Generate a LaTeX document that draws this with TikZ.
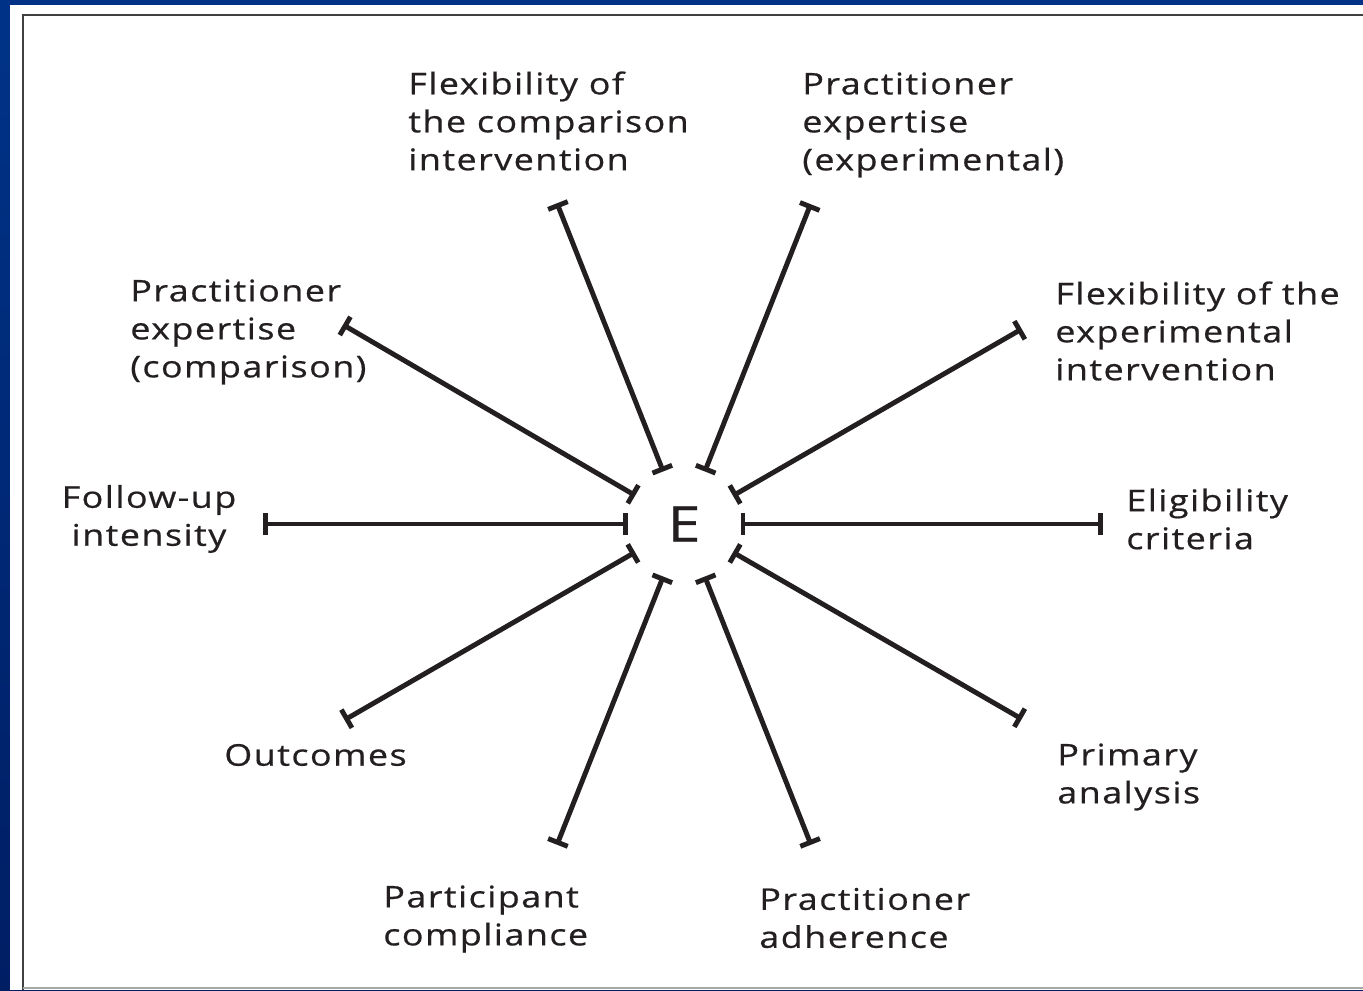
\documentclass[tikz,border=0pt]{standalone}
\usepackage{fontspec}
\setmainfont{Open Sans}
\newfontfamily\labelfont{Open Sans}[FakeStretch = 1.2, LetterSpace = 5, FakeBold = 0.6]
\usepackage{tikz}
\usetikzlibrary{arrows.meta, calc}
\definecolor{slideblue}{RGB}{0,51,136}
\definecolor{slidedark}{RGB}{0,30,100}
\definecolor{inkgray}{RGB}{35,31,32}

\begin{document}
\begin{tikzpicture}[spoke/.style = {line width = 2.8pt, color = inkgray, {Bar[width = 12pt]}-{Bar[width = 12pt]}}, lbl/.style = {anchor = west, inner sep = 0pt, align = left, text = inkgray, font = \labelfont\fontsize{17}{21.6}\selectfont}]
            \useasboundingbox (0,0) rectangle (27.26,19.8);
            \shade[top color = slideblue, bottom color = slidedark] (0,0) rectangle (27.26,19.8);
            \fill[white] (0.2,0) rectangle (27.26,19.7);
            \draw[line width = 1.6pt, color = black!75] (0.46,0) -- (0.46,19.5) -- (27.3,19.5);
            \draw[line width = 1pt, color = black!35] (0.46,0.04) -- (27.3,0.04);
            \node[inner sep = 0pt, text = inkgray, font = \labelfont\fontsize{28}{32}\selectfont] (E) at (13.68,9.32) {E};
            \foreach \ang/\len [count = \i] in {0/8.38, 30/7.8, 68.4/6.88, 111.6/6.9, 149.7/7.9, 180/8.42, 210/7.84, 248.4/6.9, 291.6/6.9, 330/7.8} {
                \coordinate (in\i) at ($(E.center)+(\ang:1.13)$);
                \coordinate (out\i) at ($(E.center)+(\ang:\len)$);
                \draw[spoke] (in\i) -- (out\i);
            }
            \node[lbl] (eligib) at (22.52,9.42) {Eligibility\\criteria};
            \node[lbl] (flexexp) at (21.1,13.18) {Flexibility of the\\experimental\\intervention};
            \node[lbl] (expertexp) at (16.04,17.3) {Practitioner\\expertise\\(experimental)};
            \node[lbl] (flexcomp) at (8.16,17.38) {Flexibility of\\the comparison\\intervention};
            \node[lbl] (expertcomp) at (2.6,13.16) {Practitioner\\expertise\\(comparison)};
            \node[lbl, anchor = center, align = center] (followup) at (2.98,9.42) {Follow-up\\intensity};
            \node[lbl] (outcomes) at (4.48,4.7) {Outcomes};
            \node[lbl] (compliance) at (7.66,1.42) {Participant\\compliance};
            \node[lbl] (adherence) at (15.18,1.44) {Practitioner\\adherence};
            \node[lbl] (analysis) at (21.14,4.26) {Primary\\analysis};
        \end{tikzpicture}
\end{document}
